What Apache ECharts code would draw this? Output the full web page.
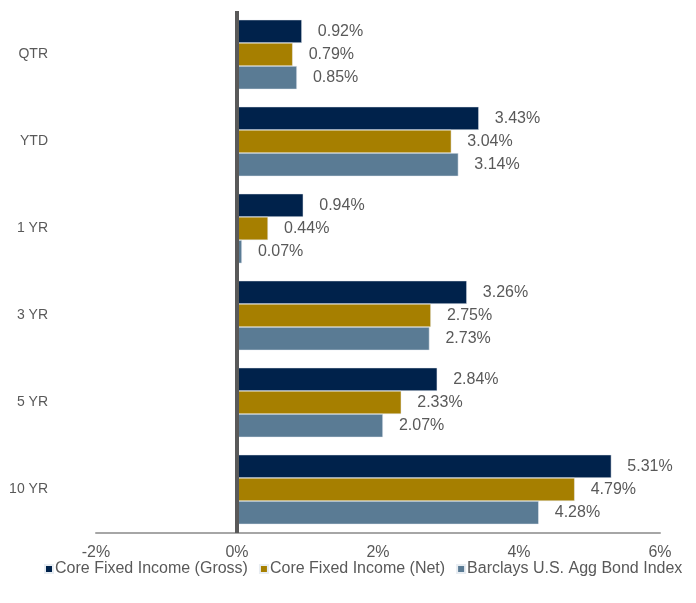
<!DOCTYPE html>
<html>
<head>
<meta charset="utf-8">
<script src="https://cdn.jsdelivr.net/npm/echarts@6/dist/echarts.min.js"></script>
<style>
  html, body { margin: 0; padding: 0; background: #fff; }
  #chart { width: 696px; height: 603px; }
</style>
</head>
<body>
<div id="chart"></div>
<script>
const categories = ['QTR', 'YTD', '1 YR', '3 YR', '5 YR', '10 YR']
const grossValues = [0.92, 3.43, 0.94, 3.26, 2.84, 5.31]
const netValues = [0.79, 3.04, 0.44, 2.75, 2.33, 4.79]
const indexValues = [0.85, 3.14, 0.07, 2.73, 2.07, 4.28]
const seriesNames = ['Core Fixed Income (Gross)', 'Core Fixed Income (Net)', 'Barclays U.S. Agg Bond Index']
const seriesColors = ['#00224b', '#a67f00', '#5a7b94']

const textColor = '#595959'
const fontFamily = '"Liberation Sans", Arial, sans-serif'

const makeBar = (name, data, color, withZeroLine) => {
  const s = {
    name,
    type: 'bar',
    data,
    barGap: '0%',
    barCategoryGap: '20%',
    itemStyle: { color, borderColor: '#e8edf2', borderWidth: 0.5 },
    label: {
      show: true,
      position: 'right',
      distance: 16,
      color: textColor,
      fontSize: 16,
      fontFamily,
      formatter: (p) => p.value.toFixed(2) + '%'
    }
  }
  if (withZeroLine) {
    s.markLine = {
      silent: true,
      symbol: 'none',
      label: { show: false },
      lineStyle: { color: '#595959', width: 4, type: 'solid' },
      data: [{ xAxis: 0 }]
    }
  }
  return s
}

const chart = echarts.init(document.getElementById('chart'))
chart.setOption({
  animation: false,
  grid: { left: 96, right: 36, top: 11, bottom: 70, containLabel: false },
  legend: {
    left: 39,
    top: 556,
    width: 660,
    icon: 'rect',
    itemWidth: 8,
    itemHeight: 8,
    itemGap: 11,
    textStyle: { color: textColor, fontSize: 16, fontFamily, padding: [0, 0, 0, -3] },
    data: seriesNames
  },
  xAxis: {
    type: 'value',
    min: -2,
    max: 6,
    interval: 2,
    axisLine: { show: true, onZero: false, lineStyle: { color: '#a6a6a6', width: 2 } },
    axisTick: { show: false },
    splitLine: { show: false },
    axisLabel: {
      color: textColor,
      fontSize: 16,
      fontFamily,
      margin: 12,
      formatter: (v) => v + '%'
    }
  },
  yAxis: {
    type: 'category',
    data: categories,
    inverse: true,
    axisLine: { show: false },
    axisTick: { show: false },
    axisLabel: {
      color: textColor,
      fontSize: 14,
      fontFamily,
      margin: 48
    }
  },
  series: [
    makeBar(seriesNames[0], grossValues, seriesColors[0], true),
    makeBar(seriesNames[1], netValues, seriesColors[1], false),
    makeBar(seriesNames[2], indexValues, seriesColors[2], false)
  ]
})
</script>
</body>
</html>
